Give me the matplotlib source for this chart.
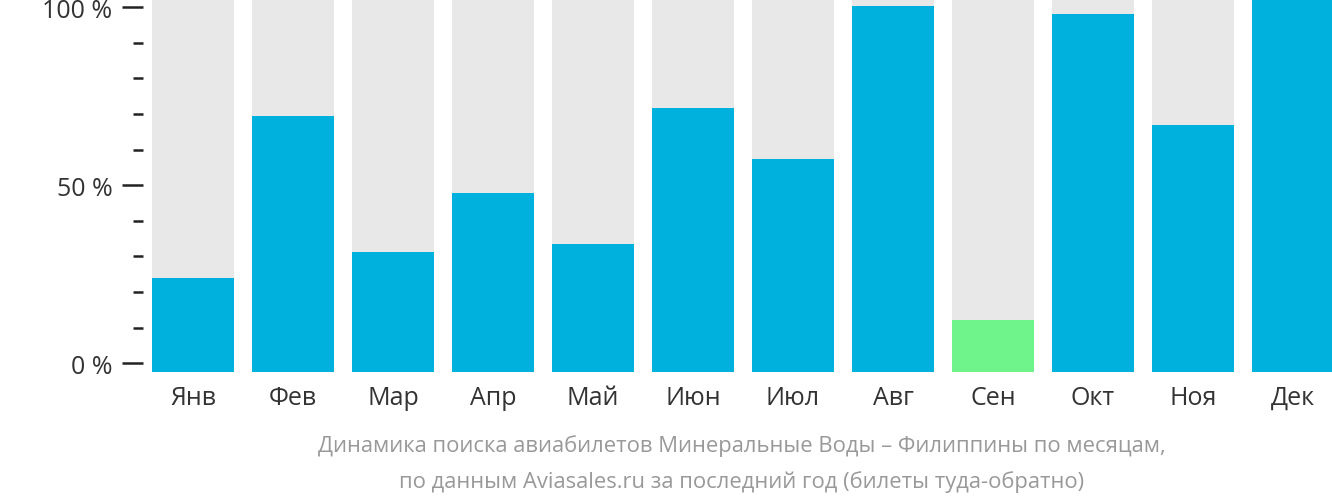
import matplotlib
matplotlib.use("Agg")
import matplotlib.pyplot as plt
import matplotlib.transforms as mtransforms
from matplotlib.ticker import MultipleLocator, FuncFormatter

months = ["Янв", "Фев", "Мар", "Апр", "Май", "Июн",
          "Июл", "Авг", "Сен", "Окт", "Ноя", "Дек"]
values = [23.9, 69.4, 31.2, 47.8, 33.5, 71.7, 57.4, 100.4, 12.1, 98.1, 66.9, 104.0]
lowest = 8  # index of the highlighted (cheapest) month

caption_lines = [
    "Динамика поиска авиабилетов Минеральные Воды – Филиппины по месяцам,",
    "по данным Aviasales.ru за последний год (билеты туда-обратно)",
]

plt.rcParams["font.family"] = ["Open Sans", "DejaVu Sans"]

W, H = 1332, 502
fig = plt.figure(figsize=(W / 100, H / 100), dpi=100)
ax = fig.add_axes((143 / W, (H - 373) / H, 1 - 143 / W, 373 / H))

y_lo, y_hi = -2.5, 102.3
x = list(range(len(months)))
colors = ["#6ef48a" if i == lowest else "#00b1dd" for i in x]
ax.bar(x, [y_hi - y_lo] * len(x), bottom=y_lo, width=0.82, color="#e8e8e8")
ax.bar(x, [v - y_lo for v in values], bottom=y_lo, width=0.82, color=colors)

ax.set_xlim(-0.5, (W - 193) / 100)
ax.set_ylim(y_lo, y_hi)
for s in ax.spines.values():
    s.set_visible(False)

ax.yaxis.set_major_locator(MultipleLocator(50))
ax.yaxis.set_minor_locator(MultipleLocator(10))
ax.yaxis.set_major_formatter(FuncFormatter(lambda v, p: f"{v:.0f} %"))
ax.tick_params(axis="y", which="major", length=15, width=1.8, color="#222222",
               labelsize=18, labelcolor="#333333", pad=7)
ax.tick_params(axis="y", which="minor", length=7, width=1.8, color="#222222")

# month labels on a common baseline (Д has a descender)
ax.set_xticks([])
trans = mtransforms.blended_transform_factory(ax.transData, fig.transFigure)
for xi, m in zip(x, months):
    ax.text(xi, 1 - 405 / H, m, transform=trans, ha="center", va="baseline",
            fontsize=18, color="#333333", clip_on=False)

cx = (143 + 1332) / 2 / W
for yy, line in zip((446, 482), caption_lines):
    fig.text(cx + 4 / W, 1 - yy / H, line, ha="center", va="center",
             fontsize=15.85, color="#999999")

fig.savefig("out.png", dpi=100)
